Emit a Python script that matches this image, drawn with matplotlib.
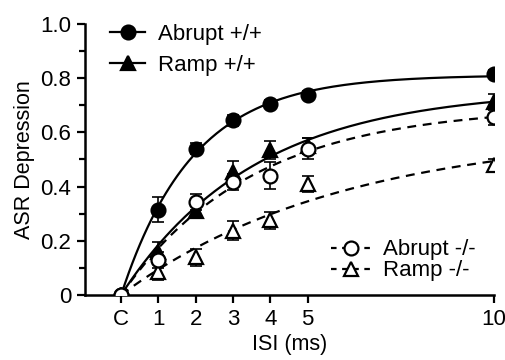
"""ASR depression vs ISI, exponential fits"""

import numpy as np
from matplotlib import pyplot as plt

plt.rcParams["font.family"] = ["Liberation Sans", "DejaVu Sans"]

isi = np.array([0, 1, 2, 3, 4, 5, 10])
tick_labels = ["C", "1", "2", "3", "4", "5", "10"]

abrupt_wt = np.array([0.0, 0.315, 0.54, 0.645, 0.705, 0.737, 0.815])
abrupt_wt_err = np.array([0.0, 0.045, 0.02, 0.02, 0.015, 0.015, 0.015])
ramp_wt = np.array([0.0, 0.16, 0.31, 0.455, 0.535, 0.55, 0.712])
ramp_wt_err = np.array([0.0, 0.035, 0.02, 0.04, 0.035, 0.03, 0.03])
abrupt_ko = np.array([0.0, 0.128, 0.342, 0.416, 0.44, 0.54, 0.657])
abrupt_ko_err = np.array([0.0, 0.03, 0.03, 0.03, 0.05, 0.04, 0.03])
ramp_ko = np.array([0.0, 0.086, 0.138, 0.237, 0.275, 0.41, 0.478])
ramp_ko_err = np.array([0.0, 0.03, 0.03, 0.035, 0.03, 0.03, 0.025])


def fit_exp_rise(x, y):
    # y = a * (1 - exp(-k x)), grid over k, least squares for a
    best = None
    for k in np.linspace(0.01, 2.0, 2000):
        basis = 1 - np.exp(-k * x)
        a = np.dot(basis, y) / np.dot(basis, basis)
        err = np.sum((a * basis - y) ** 2)
        if best is None or err < best[0]:
            best = (err, a, k)
    return best[1], best[2]


fig = plt.figure(figsize=(5.06, 3.6), dpi=100)
ax = fig.add_axes([0.168, 0.181, 0.808, 0.752])

series = [
    (abrupt_wt, abrupt_wt_err, "o", "k", "-", "Abrupt +/+"),
    (ramp_wt, ramp_wt_err, "^", "k", "-", "Ramp +/+"),
    (ramp_ko, ramp_ko_err, "^", "white", "--", "Ramp -/-"),
    (abrupt_ko, abrupt_ko_err, "o", "white", "--", "Abrupt -/-"),
]

xs = np.linspace(0, 10, 200)
handles = {}
for vals, errs, marker, face, style, label in series:
    a, k = fit_exp_rise(isi, vals)
    ax.plot(xs, a * (1 - np.exp(-k * xs)), color="k", linestyle=style,
            linewidth=1.6, dashes=(4, 3) if style == "--" else (None, None),
            zorder=2)
    ax.errorbar(isi, vals, yerr=errs, fmt="none", ecolor="k", elinewidth=1.2,
                capsize=4, capthick=1.2, zorder=3)
    ax.plot(isi, vals, linestyle="none", marker=marker, markersize=10,
            markerfacecolor=face, markeredgecolor="k", markeredgewidth=1.6,
            zorder=4)
    (h,) = ax.plot([], [], color="k", linestyle=style, linewidth=1.6,
                   dashes=(2.5, 2.5) if style == "--" else (None, None),
                   marker=marker, markersize=10, markerfacecolor=face,
                   markeredgecolor="k", markeredgewidth=1.6)
    handles[label] = h

ax.set_xlim(-0.97, 10)
ax.set_ylim(0, 1.0)
ax.set_xticks(isi)
ax.set_xticklabels(tick_labels)
ax.set_yticks([0, 0.2, 0.4, 0.6, 0.8, 1.0])
ax.set_yticklabels(["0", "0.2", "0.4", "0.6", "0.8", "1.0"])
ax.set_yticks(np.arange(0.1, 1.0, 0.2), minor=True)
ax.tick_params(axis="both", which="major", labelsize=16, width=1.6, length=6,
               direction="out", pad=4)
ax.tick_params(axis="y", which="minor", width=1.6, length=4)
for side in ["top", "right"]:
    ax.spines[side].set_visible(False)
for side in ["left", "bottom"]:
    ax.spines[side].set_linewidth(1.8)

ax.set_xlabel("ISI (ms)", fontsize=15.5, labelpad=3)
ax.set_ylabel("ASR Depression", fontsize=15.5, labelpad=4)

leg1 = ax.legend([handles["Abrupt +/+"], handles["Ramp +/+"]],
                 ["Abrupt +/+", "Ramp +/+"], loc="upper left",
                 bbox_to_anchor=(0.061, 1.0), frameon=False, fontsize=16,
                 borderpad=0, borderaxespad=0,
                 handlelength=1.58, handletextpad=0.58, labelspacing=0.45)
ax.add_artist(leg1)
ax.legend([handles["Abrupt -/-"], handles["Ramp -/-"]],
          ["Abrupt -/-", "Ramp -/-"], loc="lower right",
          bbox_to_anchor=(0.955, 0.05), frameon=False, fontsize=16,
          borderpad=0, borderaxespad=0,
          handlelength=1.8, handletextpad=0.54, labelspacing=0.0)

fig.savefig("out.png", dpi=100)
